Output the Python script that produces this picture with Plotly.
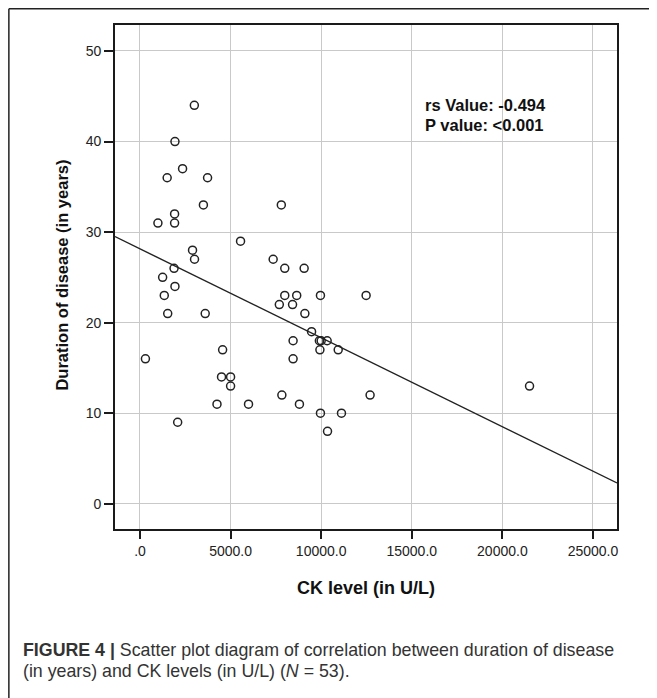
import plotly.graph_objects as go

# ---- data ----
ck_level = [3000, 1930, 2350, 1500, 3730, 3500, 7800, 1910, 990, 1910,
            5550, 2900, 3010, 7350, 7990, 1880, 1250, 1930, 1340, 7990,
            8650, 1530, 3600, 7690, 8420, 8450, 8450, 300, 4560, 4500,
            5000, 5000, 4250, 5990, 7830, 8800, 2080, 9060, 9960, 12480,
            9100, 9470, 9900, 10000, 10330, 9930, 10940, 12700, 9960, 11120,
            10350, 21500]
duration = [44, 40, 37, 36, 36, 33, 33, 32, 31, 31,
            29, 28, 27, 27, 26, 26, 25, 24, 23, 23,
            23, 21, 21, 22, 22, 18, 16, 16, 17, 14,
            14, 13, 11, 11, 12, 11, 9, 26, 23, 23,
            21, 19, 18, 18, 18, 17, 17, 12, 10, 10,
            8, 13]
fit_intercept = 28.15
fit_slope = -0.000982
x_tickvals = [0, 5000, 10000, 15000, 20000, 25000]
x_ticktext = [".0", "5000.0", "10000.0", "15000.0", "20000.0", "25000.0"]
y_tickvals = [0, 10, 20, 30, 40, 50]
x_range = [-1379, 26327]
y_range = [-2.79, 52.87]

# ---- layout geometry (pixels, in screenshot coords; page body has an 8px margin) ----
OFF = 8
FW, FH = 657 - OFF, 698 - OFF
L, R, T, B = 115 - OFF, 617.3 - OFF, 25 - OFF, 529.3 - OFF
PW, PH = R - L, B - T


def px(x):
    """screenshot x -> paper x"""
    return (x - OFF - L) / PW


def py(y):
    """screenshot y -> paper y"""
    return (B - (y - OFF)) / PH


fit_x = x_range
fit_y = [fit_intercept + fit_slope * v for v in fit_x]

fig = go.Figure()
fig.add_trace(go.Scatter(
    x=ck_level, y=duration, mode="markers",
    marker=dict(symbol="circle-open", size=8, color="#222",
                line=dict(width=1.5, color="#222")),
    showlegend=False, hoverinfo="x+y"))
fig.add_trace(go.Scatter(
    x=fit_x, y=fit_y, mode="lines",
    line=dict(color="#222", width=1.4),
    showlegend=False, hoverinfo="skip"))

axis_common = dict(
    showline=True, linecolor="#1a1a1a", linewidth=1.6, mirror=True,
    ticks="outside", tickcolor="#1a1a1a", tickwidth=2,
    showgrid=True, gridcolor="#c9c9c9", gridwidth=1.2, zeroline=False,
    tickfont=dict(family="Liberation Sans, Arial, sans-serif", size=14, color="#222"),
)

fig.update_layout(
    width=FW, height=FH,
    margin=dict(l=L, r=FW - R, t=T, b=FH - B, pad=0),
    paper_bgcolor="white", plot_bgcolor="white",
    xaxis=dict(range=x_range, tickvals=x_tickvals, ticktext=x_ticktext,
               ticklen=8.5, **axis_common),
    yaxis=dict(range=y_range, tickvals=y_tickvals, ticklen=9, **axis_common),
    showlegend=False,
)

annos = []
# axis titles
annos.append(dict(text="<b>CK level (in U/L)</b>", xref="paper", yref="paper",
                  x=px(366), y=py(588), xanchor="center", yanchor="middle",
                  showarrow=False,
                  font=dict(family="Liberation Sans, Arial, sans-serif", size=18, color="#111")))
annos.append(dict(text="<b>Duration of disease (in years)</b>", xref="paper", yref="paper",
                  x=px(61.7), y=py(275), xanchor="center", yanchor="middle",
                  textangle=-90, showarrow=False,
                  font=dict(family="Liberation Sans, Arial, sans-serif", size=16.5, color="#111")))
# statistics text
stat_font = dict(family="Liberation Sans, Arial, sans-serif", size=16.5, color="#111")
annos.append(dict(text="<b>rs Value: -0.494</b>", xref="x", yref="y",
                  x=15665, y=44.0, xanchor="left", yanchor="middle", showarrow=False,
                  borderpad=0, font=stat_font))
annos.append(dict(text="<b>P value: &lt;0.001</b>", xref="x", yref="y",
                  x=15665, y=41.85, xanchor="left", yanchor="middle", showarrow=False,
                  borderpad=0, font=stat_font))
# caption
cap_font = dict(family="Liberation Sans, Arial, sans-serif", size=17.8, color="#333")
annos.append(dict(text="<b>FIGURE 4 |</b> Scatter plot diagram of correlation between duration of disease",
                  xref="paper", yref="paper", x=px(21), y=py(650),
                  xanchor="left", yanchor="middle", showarrow=False, font=cap_font))
annos.append(dict(text="(in years) and CK levels (in U/L) (<i>N</i> = 53).",
                  xref="paper", yref="paper", x=px(21), y=py(671),
                  xanchor="left", yanchor="middle", showarrow=False, font=cap_font))
fig.update_layout(annotations=annos)

# outer frame (left and top edges of the figure panel)
fig.add_shape(type="line", xref="paper", yref="paper",
              x0=px(8.8), y0=py(8.8), x1=px(FW + OFF + 5), y1=py(8.8),
              line=dict(color="#222", width=1.5))
fig.add_shape(type="line", xref="paper", yref="paper",
              x0=px(8.8), y0=py(8.8), x1=px(8.8), y1=py(FH + OFF + 5),
              line=dict(color="#222", width=1.5))

fig.write_html("out.html")
